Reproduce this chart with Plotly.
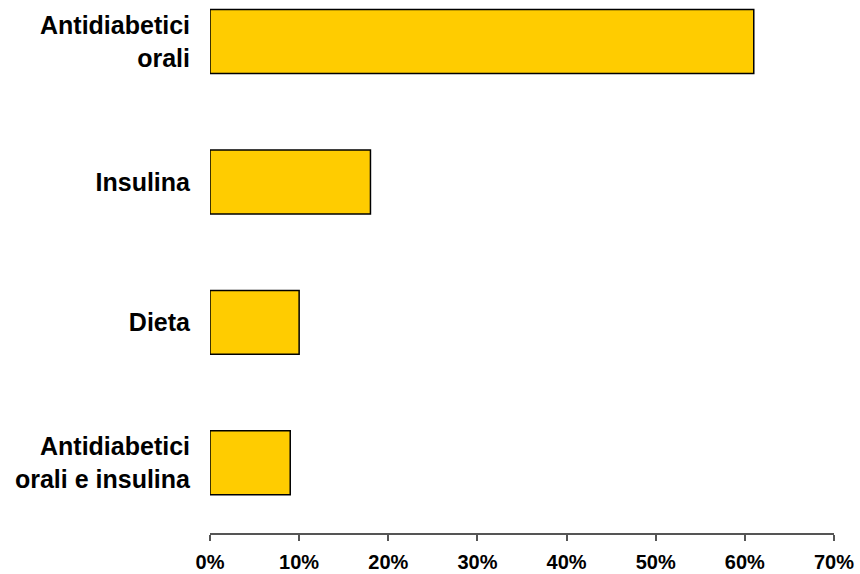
import plotly.graph_objects as go

categories = ["Antidiabetici<br>orali", "Insulina", "Dieta", "Antidiabetici<br>orali e insulina"]
values = [0.61, 0.18, 0.10, 0.09]
tick_vals = [0, 0.1, 0.2, 0.3, 0.4, 0.5, 0.6, 0.7]
tick_text = ["0%", "10%", "20%", "30%", "40%", "50%", "60%", "70%"]

fig = go.Figure(go.Bar(
    x=values, y=categories, orientation="h",
    width=0.455,
    marker=dict(color="#FFCC00", line=dict(color="black", width=1.5)),
))

fig.update_layout(
    width=860, height=574,
    margin=dict(l=210, r=26, t=0, b=41, autoexpand=False),
    paper_bgcolor="white", plot_bgcolor="white",
    showlegend=False,
    font=dict(family="Liberation Sans, Arial", color="black"),
)
fig.update_xaxes(
    range=[0, 0.7], tickvals=tick_vals, ticktext=tick_text,
    showgrid=False, zeroline=False,
    showline=True, linecolor="#555555", linewidth=1.5,
    ticks="outside", ticklen=6, tickcolor="#555555", tickwidth=1.5,
    ticklabelstandoff=4,
    tickfont=dict(size=20, family="Liberation Sans, Arial", color="black", weight="bold"),
)
fig.update_yaxes(
    type="category", categoryorder="array", categoryarray=categories,
    range=[3.5, -0.296],
    showgrid=False, zeroline=False, showline=False, ticks="",
    ticklabelstandoff=19,
    tickfont=dict(size=25, family="Liberation Sans, Arial", color="black", weight="bold"),
)

fig.write_html(
    "out.html",
    config={"displayModeBar": False},
    post_script="document.body.style.margin='0';document.body.style.overflow='hidden';",
)
